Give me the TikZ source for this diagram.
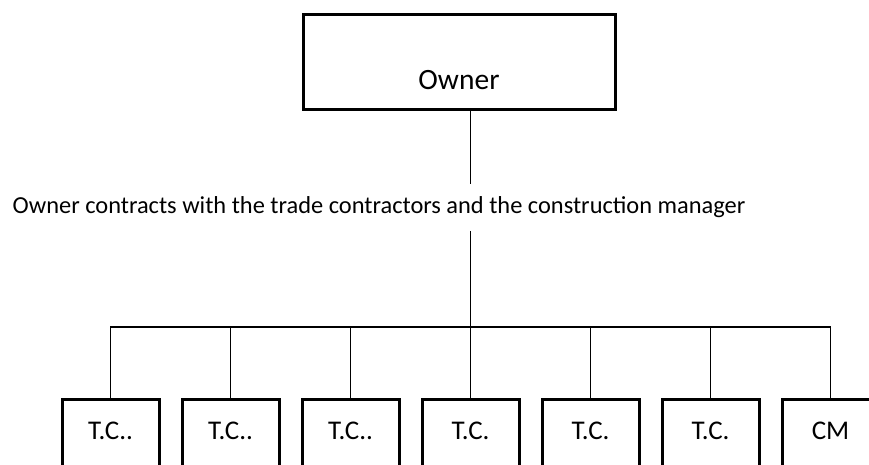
\documentclass[tikz,border=0pt]{standalone}
\usepackage{fontspec}
\setmainfont{Carlito}
\usetikzlibrary{positioning}

\tikzset{
    ownerbox/.style={draw, line width=3pt, minimum width=312pt, minimum height=95pt, inner sep=0pt},
    tcbox/.style={draw, line width=3pt, minimum width=97pt, minimum height=100pt, inner sep=0pt, outer sep=0pt},
    tclabel/.style={anchor=center, yshift=-32pt, font=\fontsize{27}{30}\selectfont},
    wire/.style={line width=1.3pt}
}

\begin{document}
\begin{tikzpicture}[x=1pt, y=-1pt, node distance=23pt]

    \useasboundingbox (0,0) rectangle (869,465);
    \clip (0,0) rectangle (869,465);

    \node[ownerbox, label={[anchor=center, yshift=-17.5pt, font=\fontsize{29.5}{32}\selectfont]center:Owner}] (owner) at (459,62.5) {};

    \node[font=\fontsize{24.4}{28}\selectfont, inner xsep=0pt, inner ysep=12.5pt] (caption) at (379,207.5)
        {Owner contracts with the trade contractors and the construction manager};

    \node[tcbox, anchor=north, label={[tclabel]north:T.C..}] (tc1) at (110.5,399) {};
    \node[tcbox, right=of tc1, label={[tclabel]north:T.C..}] (tc2) {};
    \node[tcbox, right=of tc2, label={[tclabel]north:T.C..}] (tc3) {};
    \node[tcbox, right=of tc3, label={[tclabel]north:T.C.}] (tc4) {};
    \node[tcbox, right=of tc4, label={[tclabel]north:T.C.}] (tc5) {};
    \node[tcbox, right=of tc5, label={[tclabel]north:T.C.}] (tc6) {};
    \node[tcbox, right=of tc6, label={[tclabel]north:CM}] (cm) {};

    \coordinate (bus) at (0,327);

    \draw[wire] (owner.south -| tc4) -- (caption.north -| tc4);
    \draw[wire] (caption.south -| tc4) -- (tc4.north);
    \draw[wire] (tc1.north) |- (bus -| cm) -- (cm.north);
    \foreach \n in {tc2,tc3,tc5,tc6}
        \draw[wire] (\n.north) -- (\n.north |- bus);

\end{tikzpicture}
\end{document}
